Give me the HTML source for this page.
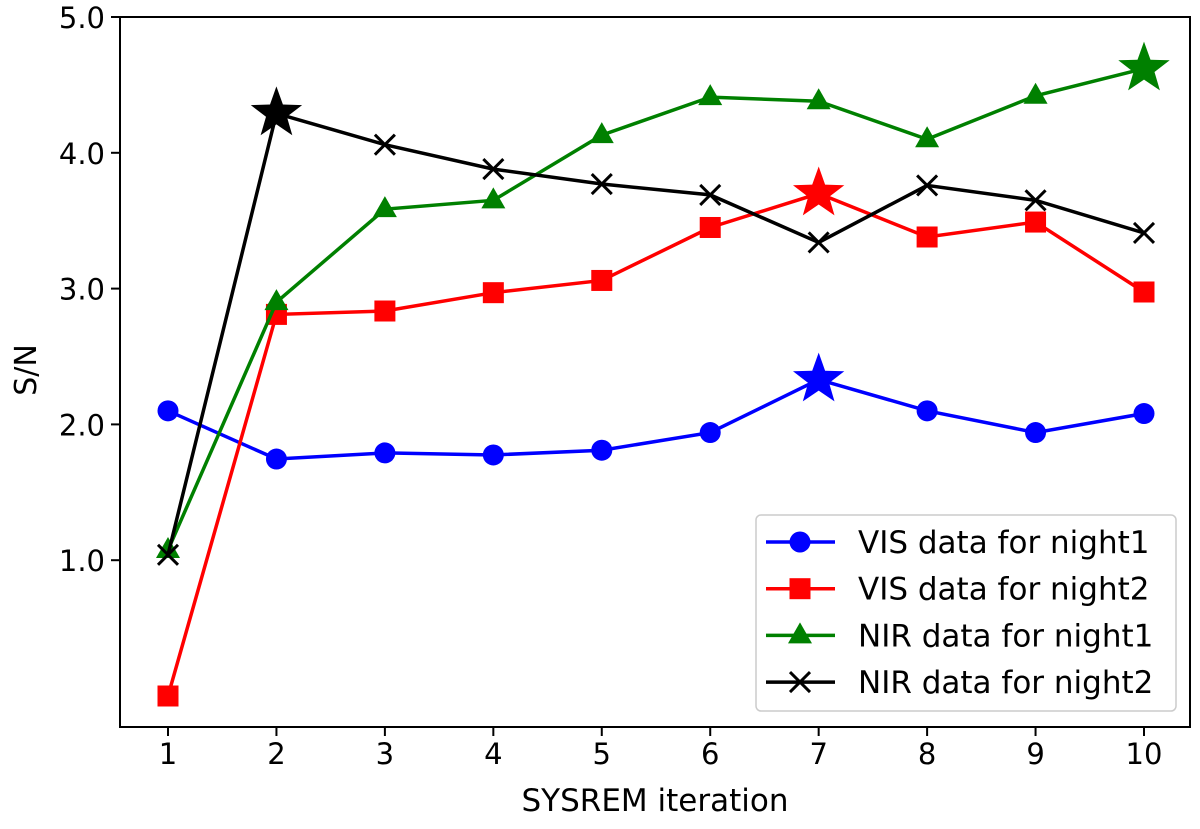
<!DOCTYPE html>
<html><head><meta charset="utf-8"><style>
body{margin:0;background:#fff}
svg text{font-family:"DejaVu Sans","Liberation Sans",sans-serif;fill:#000}
</style></head><body>
<svg id="c" width="1200" height="824"></svg>
<script>
const iterations=[1,2,3,4,5,6,7,8,9,10];
const visNight1=[2.10,1.745,1.79,1.775,1.81,1.94,2.33,2.10,1.94,2.08];
const visNight2=[0.0,2.81,2.835,2.97,3.06,3.45,3.70,3.38,3.49,2.975];
const nirNight1=[1.075,2.90,3.585,3.65,4.13,4.41,4.38,4.10,4.42,4.62];
const nirNight2=[1.04,4.29,4.06,3.88,3.77,3.69,3.34,3.76,3.65,3.41];
const yTicks=[1.0,2.0,3.0,4.0,5.0];
const yTickLabels=["1.0","2.0","3.0","4.0","5.0"];
const NS="http://www.w3.org/2000/svg";
const svg=document.getElementById('c');
const L=120,R=1190,T=17,B=727;
const X=v=>168+(v-1)*(1144-168)/9;
const Y=v=>696-v*135.8;
function el(t,a,p){const e=document.createElementNS(NS,t);for(const k in a)e.setAttribute(k,a[k]);(p||svg).appendChild(e);return e;}
iterations.forEach(v=>{
 const t=el('line',{x1:X(v),x2:X(v),y1:B,y2:B+9,stroke:'#000','stroke-width':2});
 
 
 const tx=el('text',{x:X(v),y:B+37,'text-anchor':'middle','font-size':29});
 tx.textContent=v;
 
 
});
yTicks.forEach((v,i)=>{
 const t=el('line',{x1:L-9,x2:L,y1:Y(v),y2:Y(v),stroke:'#000','stroke-width':2});
 
 
 const tx=el('text',{x:L-15,y:Y(v)+11,'text-anchor':'end','font-size':29});
 tx.textContent=yTickLabels[i];
 
 
});
let xl=el('text',{x:655,y:811,'text-anchor':'middle','font-size':31});xl.textContent='SYSREM iteration';


let yl=el('text',{x:0,y:0,'text-anchor':'middle','font-size':30,transform:`translate(36,370) rotate(-90)`});yl.textContent='S/N';


function marker(type,x,y,col,g,s){
 s=s||1;let m;
 if(type==='o')m=el('circle',{cx:x,cy:y,r:10.5*s,fill:col},g);
 else if(type==='s')m=el('rect',{x:x-10.5*s,y:y-10.5*s,width:21*s,height:21*s,fill:col},g);
 else if(type==='^')m=el('polygon',{points:`${x},${y-13*s} ${x+12*s},${y+8*s} ${x-12*s},${y+8*s}`,fill:col},g);
 else if(type==='x')m=el('path',{d:`M${x-10} ${y-10}L${x+10} ${y+10}M${x-10} ${y+10}L${x+10} ${y-10}`,stroke:col,'stroke-width':3},g);
 else if(type==='*'){let p=[];for(let i=0;i<10;i++){const r=i%2?11:27,a=-Math.PI/2+i*Math.PI/5;p.push((x+r*Math.cos(a)).toFixed(1)+','+(y+r*Math.sin(a)).toFixed(1));}
  m=el('polygon',{points:p.join(' '),fill:col},g);}
 
 
}
const series=[[visNight1,'#0000ff','o','VIS data for night1'],[visNight2,'#ff0000','s','VIS data for night2'],[nirNight1,'#008000','^','NIR data for night1'],[nirNight2,'#000000','x','NIR data for night2']];
series.forEach(([d,col,mk,name])=>{
 const g=el('g',{});
 
 
 const ln=el('polyline',{points:d.map((v,i)=>X(iterations[i])+','+Y(v)).join(' '),fill:'none',stroke:col,'stroke-width':3.5},g);
 
 
 let mi=d.indexOf(Math.max(...d));
 d.forEach((v,i)=>{ if(i===mi) marker('*',X(iterations[i]),Y(v),col,g); else marker(mk,X(iterations[i]),Y(v),col,g);});
});
const fr=el('rect',{x:L,y:T,width:R-L,height:B-T,fill:'none',stroke:'#000','stroke-width':2});


const lg=el('g',{});


el('rect',{x:756,y:515,width:420,height:196,rx:5,fill:'#fff','fill-opacity':0.85,stroke:'#ccc','stroke-width':1.5},lg);
series.forEach(([d,col,mk,name],i)=>{
 const y=542+i*46.7;
 const e=el('g',{},lg);
 
 
 el('line',{x1:766,x2:835,y1:y,y2:y,stroke:col,'stroke-width':3.5},e);
 marker(mk,800,y,col,e);
 const t=el('text',{x:858,y:y+11,'font-size':31},e);t.textContent=name;
});
</script>
</body></html>
